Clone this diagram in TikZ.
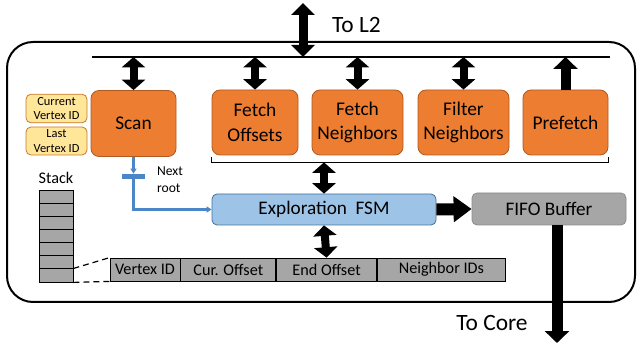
\documentclass[tikz,border=0pt]{standalone}
\usepackage{fontspec}
\setmainfont{Carlito}
\usetikzlibrary{arrows.meta,positioning}

\definecolor{unitorange}{HTML}{ED7D31}
\definecolor{unitedge}{HTML}{AE5A21}
\definecolor{regyellow}{HTML}{FFE699}
\definecolor{regedge}{HTML}{C9782E}
\definecolor{fsmblue}{HTML}{9DC3E6}
\definecolor{fsmedge}{HTML}{41719C}
\definecolor{bufgray}{HTML}{A6A6A6}
\definecolor{bufedge}{HTML}{8C8C8C}
\definecolor{rootblue}{HTML}{4A86C8}

\tikzset{
  unit/.style={draw=unitedge, fill=unitorange, rounded corners=4pt, inner sep=0pt,
    minimum width=#1, minimum height=32.5pt, align=center,
    font=\fontsize{9.7}{12.2}\selectfont},
  reg/.style={draw=regedge, fill=regyellow, rounded corners=2.5pt, inner sep=0pt,
    minimum width=30.5pt, minimum height=14.3pt, align=center,
    font=\fontsize{6.2}{7.4}\selectfont},
  stackcell/.style={draw, fill=bufgray, inner sep=0pt, minimum width=17pt, minimum height=6.57pt},
  field/.style={draw, fill=bufgray, inner sep=0pt, minimum width=#1, minimum height=11.5pt,
    font=\fontsize{8.1}{9.5}\selectfont},
  busdbl/.style={line width=4pt, {Triangle[width=11.5pt,length=5.2pt]}-{Triangle[width=11.5pt,length=5.2pt]}},
  fatone/.style={line width=#1, -{Triangle[width=12pt,length=6pt]}},
  rootline/.style={draw=rootblue, line width=1.2pt, -{Triangle[width=3pt,length=2.5pt]}},
  biglabel/.style={font=\fontsize{11.7}{13}\selectfont},
}

\begin{document}
\begin{tikzpicture}[x=0.5pt, y=-0.5pt]
  \useasboundingbox (0,0) rectangle (637,347);

  % accelerator outline and memory bus
  \draw[line width=1pt, rounded corners=13pt] (7,42) rectangle (635,302);
  \coordinate (busL) at (92,57);
  \coordinate (busR) at (610,57);
  \draw[line width=1pt] (busL) -- (busR);

  % units
  \node[unit=42.5pt, minimum height=33pt] (scan) at (133.5,123.5) {Scan};
  \node[unit=43pt] (fetchoff) at (255,122.5) {Fetch\\Offsets};
  \node[unit=45.5pt] (fetchnb) at (357.5,122.5) {Fetch\\Neighbors};
  \node[unit=45.5pt] (filternb) at (463.5,122.5) {Filter\\Neighbors};
  \node[unit=42.5pt] (prefetch) at (565.5,122.5) {Prefetch};

  \node[reg] (curvid) at (56.5,108.5) {Current\\Vertex ID};
  \node[reg, minimum height=14pt] (lastvid) at (56.5,141) {Last\\Vertex ID};

  \node[draw=fsmedge, fill=fsmblue, rounded corners=2.5pt, minimum width=112pt, minimum height=15.5pt,
    inner sep=0pt, font=\fontsize{9.6}{11}\selectfont] (fsm) at (324,209.5) {Exploration\ \ FSM};
  \node[draw=bufedge, fill=bufgray, rounded corners=2.5pt, minimum width=77pt, minimum height=16pt,
    inner sep=0pt, font=\fontsize{9.6}{11}\selectfont] (fifo) at (549,209) {FIFO Buffer};

  % stack and one entry
  \node[font=\fontsize{8.1}{9.5}\selectfont] (stacklbl) at (56,178) {Stack};
  \foreach \i in {0,...,6}
    \node[stackcell] (stk\i) at (56,196.6+13.14*\i) {};

  \node[field=35pt] (vid) at (145,269.5) {Vertex ID};
  \node[field=47.5pt, right=0pt of vid] (curoff) {Cur. Offset};
  \node[field=50pt, right=0pt of curoff] (endoff) {End Offset};
  \node[field=64pt, right=0pt of endoff] (nbids) {Neighbor IDs};

  \draw[dashed, dash pattern=on 3pt off 2pt, line width=0.6pt] (stk6.north east) -- (vid.north west);
  \draw[dashed, dash pattern=on 3pt off 2pt, line width=0.6pt] (stk6.south east) -- (vid.south west);

  % bus arrows
  \coordinate (l2) at (303,3);
  \draw[line width=4.5pt, {Triangle[width=11.5pt,length=6pt]}-{Triangle[width=11.5pt,length=6pt]}] (l2) -- (l2 |- busL);
  \node[biglabel, anchor=west] (tol2) at (325,25) {To L2};
  \foreach \u in {scan,fetchoff,fetchnb,filternb}
    \draw[busdbl] (\u.north |- busL) -- (\u.north);
  \draw[fatone=5pt] (prefetch.north) -- (prefetch.north |- busL);

  % bracket over the fetch units
  \coordinate (brk) at ([yshift=-3.5pt]prefetch.south east);
  \draw[line width=0.6pt] ([yshift=-1pt]fetchoff.south west) |- (brk) -- ([yshift=-1pt]prefetch.south east);
  \draw[busdbl] (fsm.north |- brk) -- (fsm.north);
  \draw[busdbl] (fsm.south) -- (endoff.north);

  % next root
  \node[fill=rootblue, inner sep=0pt, minimum width=11.5pt, minimum height=2.5pt] (nextbar) at (133.5,176.5) {};
  \node[anchor=west, align=left, font=\fontsize{6.8}{8.5}\selectfont] (nextlbl) at (150,180) {Next\\root};
  \draw[rootline] (scan.south) -- (nextbar.north);
  \draw[rootline] (nextbar.south) |- (fsm.west);

  % output
  \draw[line width=6pt, -{Triangle[width=12.5pt,length=9pt]}] (fsm.east) -- (fifo.west);
  \coordinate (core) at (557,343);
  \draw[fatone=5.5pt] (core |- fifo.south) -- (core);
  \node[biglabel] (tocore) at (492,323) {To Core};
\end{tikzpicture}
\end{document}
